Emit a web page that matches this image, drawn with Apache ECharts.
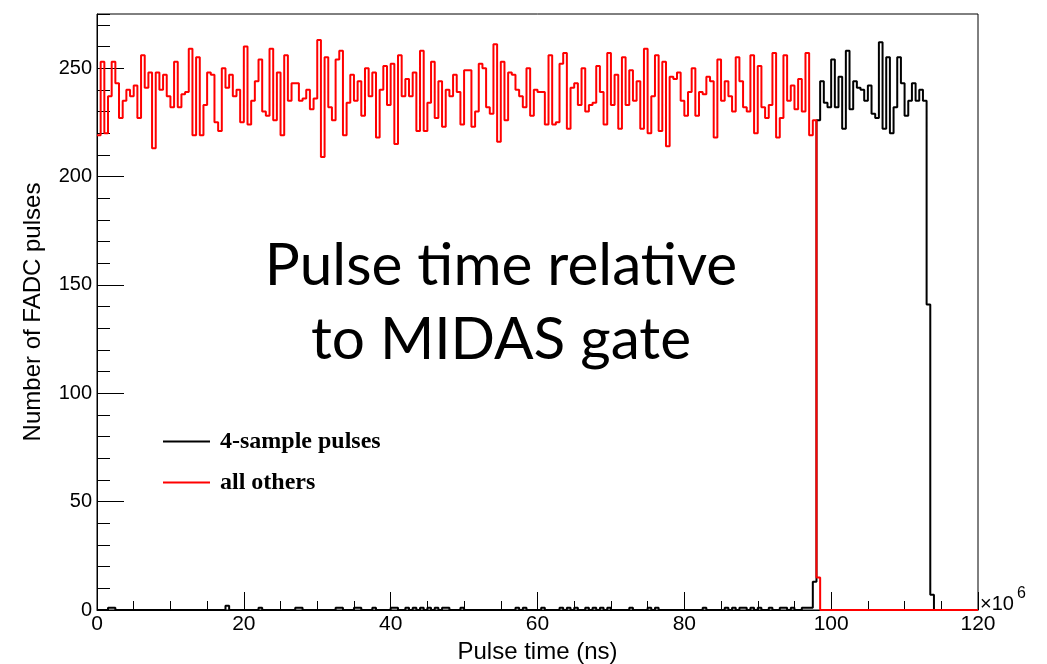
<!DOCTYPE html>
<html>
<head>
<meta charset="utf-8">
<script src="https://cdn.jsdelivr.net/npm/echarts@6/dist/echarts.min.js"></script>
<style>
  html, body { margin: 0; padding: 0; background: #fff; }
  #chart { width: 1047px; height: 664px; }
</style>
</head>
<body>
<div id="chart"></div>
<script>
// Histogram binning of pulse time (units of 10^6 ns)
const X_MIN = 0;
const X_MAX = 120;
const BIN_WIDTH = 0.5;

// Counts per 0.5 bin, "all others" (red)
const otherPulses = [
  219,253,220,237,253,243,227,235,240,237,242,227,256,241,248,213,248,240,247,237,
  232,253,232,238,239,259,219,255,219,233,248,247,225,221,250,241,247,237,240,225,
  260,224,235,244,254,230,228,259,226,248,219,256,235,243,243,235,236,240,231,236,
  263,209,255,232,226,254,258,219,234,247,235,244,228,250,237,248,218,240,251,233,
  252,215,256,237,245,237,248,221,258,221,234,253,227,244,223,240,237,247,239,224,
  249,249,223,230,252,250,232,229,261,216,253,226,248,247,240,237,232,250,228,240,
  239,239,224,256,224,225,252,257,222,241,243,233,250,230,233,234,251,239,224,257,
  233,247,222,255,233,249,235,244,222,259,220,237,256,221,253,214,246,245,248,235,
  228,239,250,228,239,238,246,244,218,254,235,244,237,230,255,244,232,230,256,220,
  251,232,227,233,257,218,227,256,235,242,231,245,230,257,219,226,15,0,0,0,
  0,0,0,0,0,0,0,0,0,0,0,0,0,0,0,0,0,0,0,0,
  0,0,0,0,0,0,0,0,0,0,0,0,0,0,0,0,0,0,0,0
];

// Counts per 0.5 bin, "4-sample pulses" (black)
const fourSamplePulses = [
  0,0,0,1,1,0,0,0,0,0,0,0,0,0,0,0,0,0,0,0,
  0,0,0,0,0,0,0,0,0,0,0,0,0,0,0,2,0,0,0,0,
  0,0,0,0,1,0,0,0,0,0,0,0,0,0,1,1,0,0,0,0,
  0,0,0,0,0,1,1,0,0,0,1,1,0,0,0,1,0,0,0,0,
  1,1,0,0,1,0,1,0,1,0,1,0,1,0,1,1,0,0,0,1,
  0,0,0,0,0,0,0,0,0,0,0,0,0,0,1,0,1,0,0,0,
  0,1,0,0,0,0,1,0,1,0,1,0,0,1,0,1,0,1,0,1,
  0,0,0,0,0,1,0,0,0,0,1,0,1,0,0,0,0,0,0,0,
  0,0,0,0,0,1,0,0,0,0,0,1,0,1,0,1,1,0,1,0,
  1,0,0,1,0,0,1,1,0,1,0,0,1,1,1,13,226,244,234,232,
  254,232,246,222,258,231,244,241,240,235,242,229,227,262,222,255,220,232,255,243,
  228,235,243,235,240,235,141,7,0,0,0,0,0,0,0,0,0,0,0,0
];

const seriesNames = ['4-sample pulses', 'all others'];
const seriesColors = ['#000000', '#ff0000'];

// Y axis range and tick spacing
const Y_MAX = 275;
const Y_MAJOR = 50;
const Y_MINOR = 10;
const X_MAJOR = 20;

// Turn bin contents into step-line points: one point per lower bin edge,
// plus a closing point at the upper edge of the last bin.
function histPoints(counts) {
  const pts = counts.map((c, i) => [X_MIN + i * BIN_WIDTH, c]);
  pts.push([X_MAX, counts[counts.length - 1]]);
  return pts;
}

const axisFont = 'Liberation Sans, Arial, Helvetica, sans-serif';

const chart = echarts.init(document.getElementById('chart'), null, { renderer: 'canvas' });

chart.setOption({
  animation: false,
  backgroundColor: '#ffffff',
  grid: {
    left: 97, right: 69, top: 14, bottom: 54,
    containLabel: false,
    outerBoundsMode: 'none',
    show: true, borderColor: '#000', borderWidth: 1, backgroundColor: 'transparent'
  },
  legend: {
    orient: 'vertical',
    left: 158, top: 424,
    icon: 'rect',
    itemWidth: 47, itemHeight: 2,
    itemGap: 16,
    textStyle: {
      fontFamily: 'Liberation Serif, Times New Roman, serif',
      fontWeight: 'bold', fontSize: 24, lineHeight: 25, color: '#000',
      padding: [0, 0, 0, 5]
    },
    data: seriesNames
  },
  xAxis: [{
    type: 'value', min: X_MIN, max: X_MAX, interval: X_MAJOR,
    axisLine: { show: true, onZero: false, lineStyle: { color: '#000', width: 1 } },
    axisTick: { show: true, inside: true, length: 18, lineStyle: { color: '#000', width: 1 } },
    minorTick: { show: true, splitNumber: 4, length: 9, lineStyle: { color: '#000', width: 1 } },
    axisLabel: { color: '#000', fontSize: 21, fontFamily: axisFont, margin: 4 },
    splitLine: { show: false },
    name: 'Pulse time (ns)',
    nameLocation: 'middle', nameGap: 28,
    nameTextStyle: { color: '#000', fontSize: 24, fontFamily: axisFont }
  }],
  yAxis: [{
    type: 'value', min: 0, max: Y_MAX, interval: Y_MAJOR,
    axisLine: { show: true, onZero: false, lineStyle: { color: '#000', width: 1 } },
    axisTick: { show: true, inside: true, length: 27, lineStyle: { color: '#000', width: 1 } },
    axisLabel: { color: '#000', fontSize: 20, fontFamily: axisFont, margin: 5, showMaxLabel: false },
    splitLine: { show: false },
    name: 'Number of FADC pulses',
    nameLocation: 'middle', nameGap: 52,
    nameTextStyle: { color: '#000', fontSize: 24, fontFamily: axisFont }
  }, {
    // minor ticks every 10 counts
    type: 'value', min: 0, max: Y_MAX, interval: Y_MINOR, position: 'left',
    axisLine: { show: false },
    axisTick: { show: true, inside: true, length: 13, lineStyle: { color: '#000', width: 1 } },
    axisLabel: { show: false },
    splitLine: { show: false }
  }],
  series: [{
    name: seriesNames[0],
    type: 'line', step: 'end', showSymbol: false, symbol: 'none',
    color: seriesColors[0],
    lineStyle: { color: seriesColors[0], width: 2 },
    data: histPoints(fourSamplePulses),
    z: 2
  }, {
    name: seriesNames[1],
    type: 'line', step: 'end', showSymbol: false, symbol: 'none',
    color: seriesColors[1],
    lineStyle: { color: seriesColors[1], width: 2 },
    data: histPoints(otherPulses),
    z: 3
  }],
  graphic: [{
    type: 'text', left: 980, top: 594, z: 10,
    style: { text: '×10', fontSize: 20, fontFamily: axisFont, fill: '#000' }
  }, {
    type: 'text', left: 1017, top: 586, z: 10,
    style: { text: '6', fontSize: 16, fontFamily: axisFont, fill: '#000' }
  }, {
    type: 'text', z: 10,
    x: 501, y: 229,
    style: {
      text: 'Pulse time relative\nto MIDAS gate',
      textAlign: 'center',
      fontSize: 58.5, lineHeight: 74,
      fontFamily: 'Lato, Open Sans, sans-serif',
      fill: '#000'
    }
  }]
});
</script>
</body>
</html>
